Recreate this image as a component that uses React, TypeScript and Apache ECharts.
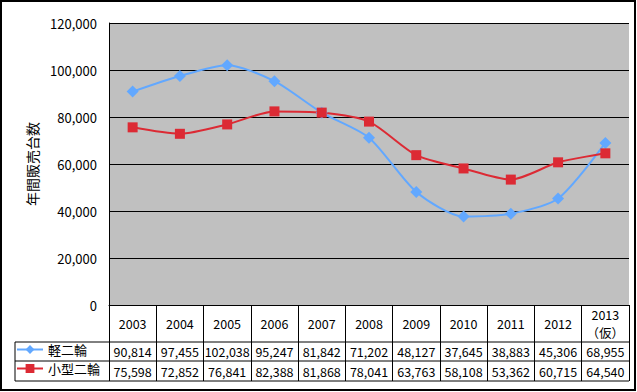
import React, { useEffect, useRef } from "react";
import * as echarts from "echarts";

const categories = ["2003", "2004", "2005", "2006", "2007", "2008", "2009", "2010", "2011", "2012", "2013\n（仮）"];
const keiNirin = [90814, 97455, 102038, 95247, 81842, 71202, 48127, 37645, 38883, 45306, 68955];
const kogataNirin = [75598, 72852, 76841, 82388, 81868, 78041, 63763, 58108, 53362, 60715, 64540];
const yTicks = [0, 20000, 40000, 60000, 80000, 100000, 120000];

const FONT = "'Noto Sans CJK JP', sans-serif";
const fmt = (v: number) => v.toLocaleString("en-US");

export default function App() {
  const ref = useRef<HTMLDivElement>(null);
  useEffect(() => {
    if (!ref.current) return;
    const chart = echarts.init(ref.current, null, { renderer: "svg" });
    const gridLeft = 109;
    const gridRight = 8;
    const gridTop = 23;
    const gridBottom = 87;
    const plotBottom = 392 - gridBottom;
    const rowLines = [plotBottom + 37, plotBottom + 56, plotBottom + 76];
    const tableRight = 637 - gridRight;
    const black = "#000";
    const labelBase = { fontFamily: FONT, fontSize: 12.5, color: black };
    chart.setOption({
      animation: false,
      backgroundColor: "#fff",
      textStyle: { fontFamily: FONT },
      grid: { left: gridLeft, right: gridRight, top: gridTop, bottom: gridBottom, show: true, backgroundColor: "#C0C0C0", borderWidth: 0 },
      legend: {
        orient: "vertical",
        left: 16,
        top: plotBottom + 37.5,
        padding: 0,
        itemWidth: 26,
        itemHeight: 11,
        itemGap: 5,
        textStyle: { ...labelBase, fontSize: 13, lineHeight: 14 },
        data: ["軽二輪", "小型二輪"],
      },
      xAxis: [
        {
          type: "category",
          data: categories,
          boundaryGap: true,
          position: "bottom",
          axisLine: { show: true, lineStyle: { color: black, width: 1 } },
          axisTick: { show: true, interval: 0, length: 76, lineStyle: { color: black, width: 1 } },
          axisLabel: { ...labelBase, interval: 0, margin: 18, verticalAlign: "middle", lineHeight: 18 },
          splitLine: { show: false },
        },
        {
          type: "category",
          data: categories,
          position: "bottom",
          offset: 37,
          axisLine: { show: false },
          axisTick: { show: false },
          axisLabel: { ...labelBase, interval: 0, margin: 9.5, verticalAlign: "middle", formatter: (_v: string, i: number) => fmt(keiNirin[i]) },
        },
        {
          type: "category",
          data: categories,
          position: "bottom",
          offset: 56,
          axisLine: { show: false },
          axisTick: { show: false },
          axisLabel: { ...labelBase, interval: 0, margin: 10, verticalAlign: "middle", formatter: (_v: string, i: number) => fmt(kogataNirin[i]) },
        },
      ],
      yAxis: {
        type: "value",
        min: yTicks[0],
        max: yTicks[yTicks.length - 1],
        interval: yTicks[1] - yTicks[0],
        name: "年間販売台数",
        nameLocation: "middle",
        nameRotate: 90,
        nameGap: 69,
        nameTextStyle: { fontFamily: FONT, fontSize: 14, color: black },
        axisLine: { show: true, lineStyle: { color: black, width: 1 } },
        axisTick: { show: true, inside: true, length: 4, lineStyle: { color: black } },
        axisLabel: { fontFamily: FONT, fontSize: 13, color: black, margin: 12, formatter: (v: number) => fmt(v) },
        splitLine: { show: true, lineStyle: { color: black, width: 1 } },
      },
      graphic: [
        { type: "rect", shape: { x: 1, y: 1, width: 634, height: 389 }, style: { fill: "none", stroke: black, lineWidth: 2 }, silent: true },
        ...rowLines.map((y) => ({ type: "line", shape: { x1: 15, y1: y, x2: tableRight, y2: y }, style: { stroke: black, lineWidth: 1 }, silent: true })),
        { type: "line", shape: { x1: 15, y1: rowLines[0], x2: 15, y2: rowLines[2] }, style: { stroke: black, lineWidth: 1 }, silent: true },
      ],
      series: [
        {
          name: "軽二輪",
          type: "line",
          data: keiNirin,
          smooth: 0.25,
          symbol: "diamond",
          symbolSize: 12,
          itemStyle: { color: "#62A8FF" },
          lineStyle: { color: "#62A8FF", width: 2 },
        },
        {
          name: "小型二輪",
          type: "line",
          data: kogataNirin,
          smooth: 0.25,
          symbol: "rect",
          symbolSize: 10,
          itemStyle: { color: "#DC2A34" },
          lineStyle: { color: "#DC2A34", width: 2 },
        },
      ],
    });
    return () => chart.dispose();
  }, []);
  return <div ref={ref} style={{ position: "absolute", left: 0, top: 0, width: 637, height: 392 }} />;
}
